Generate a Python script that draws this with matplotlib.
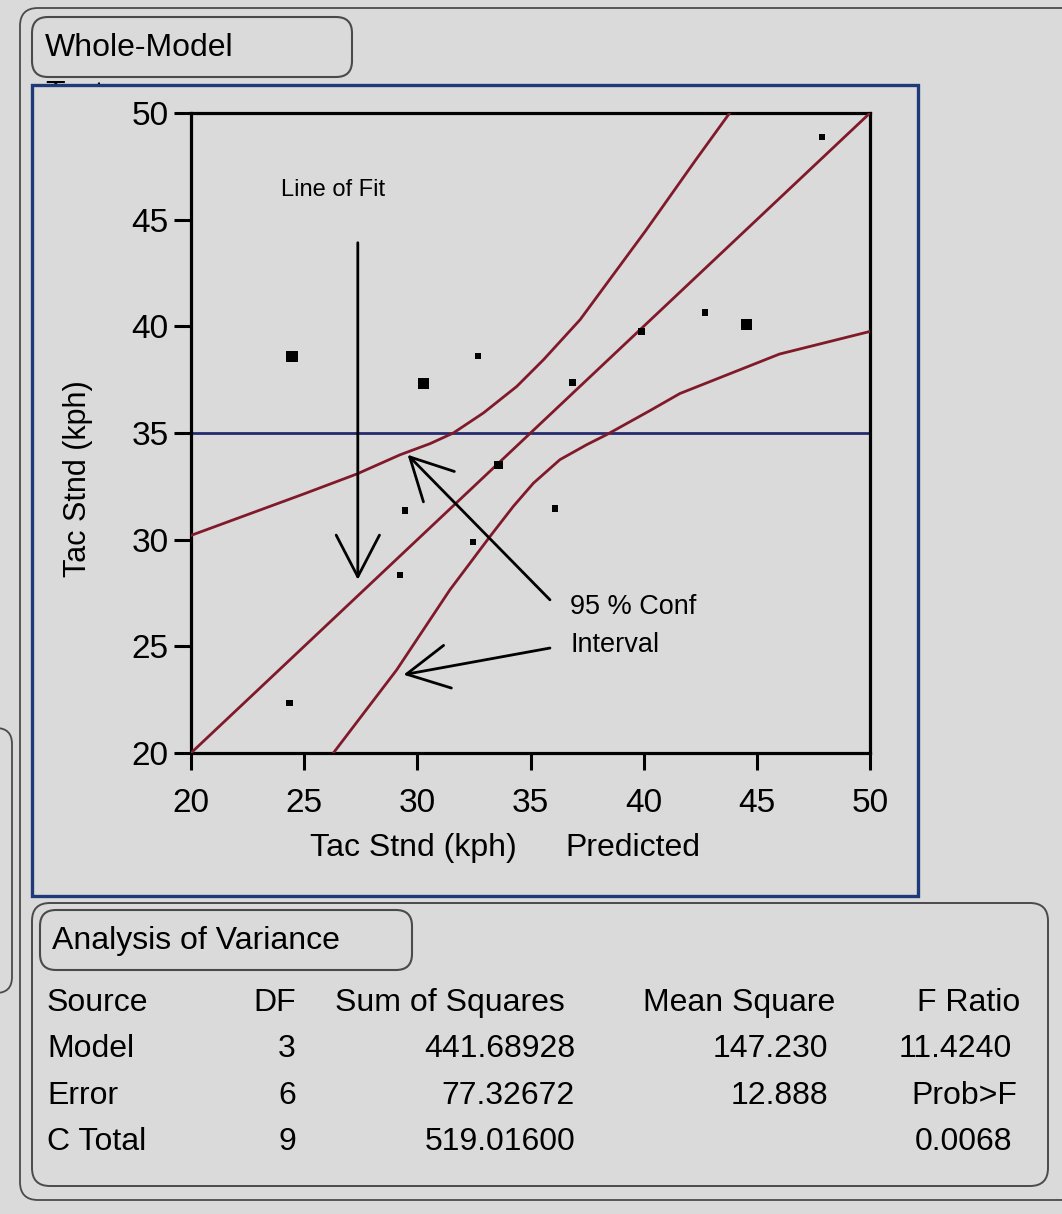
import matplotlib.pyplot as plt
from matplotlib.patches import FancyBboxPatch, Rectangle

plt.rcParams['font.family'] = ['Liberation Sans', 'DejaVu Sans']

# ---------------- DATA ----------------
# leverage points (predicted, actual)
pred = [24.46, 24.35, 30.26, 32.68, 29.45, 29.24, 32.46, 33.58, 36.08, 36.86, 39.9, 42.7, 44.55, 47.87]
actual = [38.57, 22.34, 37.3, 38.62, 31.37, 28.35, 29.9, 33.5, 31.46, 37.36, 39.76, 40.65, 40.07, 48.87]

# line of fit and mean line
fit_x = [20, 50]
fit_y = [20, 50]
mean_y = 35

# 95% confidence curves
band_a_x = [20, 25, 27.33, 29.24, 30.56, 31.59, 32.92, 34.39, 35.57, 37.19, 40.1, 42.3, 43.8]
band_a_y = [30.2, 32.15, 33.08, 33.98, 34.5, 35.0, 35.94, 37.18, 38.43, 40.31, 44.5, 47.8, 50.0]
band_b_x = [26.29, 29.09, 31.44, 33.21, 34.24, 35.13, 36.3, 37.48, 38.36, 40.28, 41.6, 46.0, 50]
band_b_y = [20.0, 23.9, 27.65, 30.15, 31.56, 32.65, 33.75, 34.45, 34.92, 36.05, 36.85, 38.7, 39.76]

ticks = [20, 25, 30, 35, 40, 45, 50]

# ANOVA table
anova_cols = ["Source", "DF", "Sum of Squares", "Mean Square", "F Ratio"]
sources = ["Model", "Error", "C Total"]
dfs = ["3", "6", "9"]
sum_sq = ["441.68928", "77.32672", "519.01600"]
mean_sq = ["147.230", "12.888", ""]
f_col = ["11.4240", "Prob>F", "0.0068"]

# ---------------- STYLE ----------------
BG = '#dadada'
RED = '#801a2a'
NAVY = '#262a6e'
FRAME = '#4a4a4a'
FS = 23

W, H = 1062, 1214
fig = plt.figure(figsize=(W / 100, H / 100), dpi=100, facecolor=BG)

# background layer in pixel coordinates for frames and table
bg = fig.add_axes([0, 0, 1, 1], zorder=0)
bg.set_xlim(0, W)
bg.set_ylim(H, 0)
bg.axis('off')


def rbox(x0, y0, x1, y1, r=16, ec=FRAME, lw=1.3, fc='none', z=1):
    p = FancyBboxPatch((x0, y0), x1 - x0, y1 - y0,
                       boxstyle=f"round,pad=0,rounding_size={r}",
                       fc=fc, ec=ec, lw=lw, zorder=z)
    bg.add_patch(p)


# outer frame + left neighbour bracket
rbox(20, 8, 1080, 1200, r=18)
rbox(-300, 728, 12, 993, r=16)

# whole-model header
rbox(32, 17, 352, 77, r=16, lw=1.5)
bg.text(45, 48, "Whole-Model", fontsize=FS, va='center', ha='left', zorder=1)
bg.text(45, 80, "Test", fontsize=FS, va='top', ha='left', zorder=1)

# blue frame around the plot (covers the clipped "Test")
bg.add_patch(Rectangle((32, 85), 886, 811, fc=BG, ec='#1e3a78', lw=2.4, zorder=2))

# ANOVA box
rbox(32, 903, 1048, 1186, r=18, lw=1.4)
rbox(40, 910, 412, 970, r=16, lw=1.5)
bg.text(52, 941, "Analysis of Variance", fontsize=FS, va='center', zorder=3)

row_y = [1003, 1049, 1096, 1142]
head_x = [47, 296, 565, 835, 1020]
head_ha = ['left', 'right', 'right', 'right', 'right']
for name, x, ha in zip(anova_cols, head_x, head_ha):
    bg.text(x, row_y[0], name, fontsize=FS, ha=ha, va='center', zorder=3)

for i in range(len(sources)):
    y = row_y[i + 1]
    bg.text(47, y, sources[i], fontsize=FS, ha='left', va='center', zorder=3)
    bg.text(296, y, dfs[i], fontsize=FS, ha='right', va='center', zorder=3)
    bg.text(575, y, sum_sq[i], fontsize=FS, ha='right', va='center', zorder=3)
    bg.text(828, y, mean_sq[i], fontsize=FS, ha='right', va='center', zorder=3)
    fx = 1017 if f_col[i] == "Prob>F" else 1012
    bg.text(fx, y, f_col[i], fontsize=FS, ha='right', va='center', zorder=3)

# ---------------- LEVERAGE PLOT ----------------
ax = fig.add_axes([191 / W, 1 - 753 / H, 679 / W, 640 / H], zorder=5)
ax.set_facecolor('none')
ax.set_xlim(20, 50)
ax.set_ylim(20, 50)
ax.set_xticks(ticks)
ax.set_yticks(ticks)
ax.tick_params(direction='out', length=12, width=2.2, labelsize=24, pad=4)
ax.tick_params(axis='x', pad=13)
for s in ax.spines.values():
    s.set_linewidth(2.3)

ax.axhline(mean_y, color=NAVY, lw=2.0, zorder=2)
ax.plot(fit_x, fit_y, color=RED, lw=2.0, zorder=3)
ax.plot(band_a_x, band_a_y, color=RED, lw=2.0, zorder=3)
ax.plot(band_b_x, band_b_y, color=RED, lw=2.0, zorder=3)

sizes = [64, 22, 64, 22, 22, 22, 22, 36, 22, 22, 30, 22, 64, 22]
ax.scatter(pred, actual, s=sizes, marker='s', color='black', zorder=4, linewidths=0)

# annotations
head = 'head_length=1.5,head_width=0.78'
ax.annotate('', xy=(27.37, 28.12), xytext=(27.37, 43.92),
            arrowprops=dict(arrowstyle='->,' + head, lw=2.0, color='black',
                            mutation_scale=20, shrinkA=0, shrinkB=0))
ax.annotate('', xy=(29.57, 33.98), xytext=(35.86, 27.18),
            arrowprops=dict(arrowstyle='->,' + head, lw=2.0, color='black',
                            mutation_scale=20, shrinkA=0, shrinkB=0))
ax.annotate('', xy=(29.39, 23.67), xytext=(35.86, 24.92),
            arrowprops=dict(arrowstyle='->,' + head, lw=2.0, color='black',
                            mutation_scale=20, shrinkA=0, shrinkB=0))

ax.text(26.28, 46.38, "Line of Fit", fontsize=17, ha='center', va='center')
ax.text(36.75, 26.85, "95 % Conf", fontsize=19.5, ha='left', va='center')
ax.text(36.75, 25.07, "Interval", fontsize=19.5, ha='left', va='center')

ax.text(-0.166, 0.428, "Tac Stnd (kph)", transform=ax.transAxes, rotation=90,
        fontsize=22, ha='center', va='center')
ax.text(0.175, -0.148, "Tac Stnd (kph)", transform=ax.transAxes,
        fontsize=FS, ha='left', va='center')
ax.text(0.552, -0.148, "Predicted", transform=ax.transAxes,
        fontsize=FS, ha='left', va='center')

fig.savefig("out.png", dpi=100, facecolor=BG)
